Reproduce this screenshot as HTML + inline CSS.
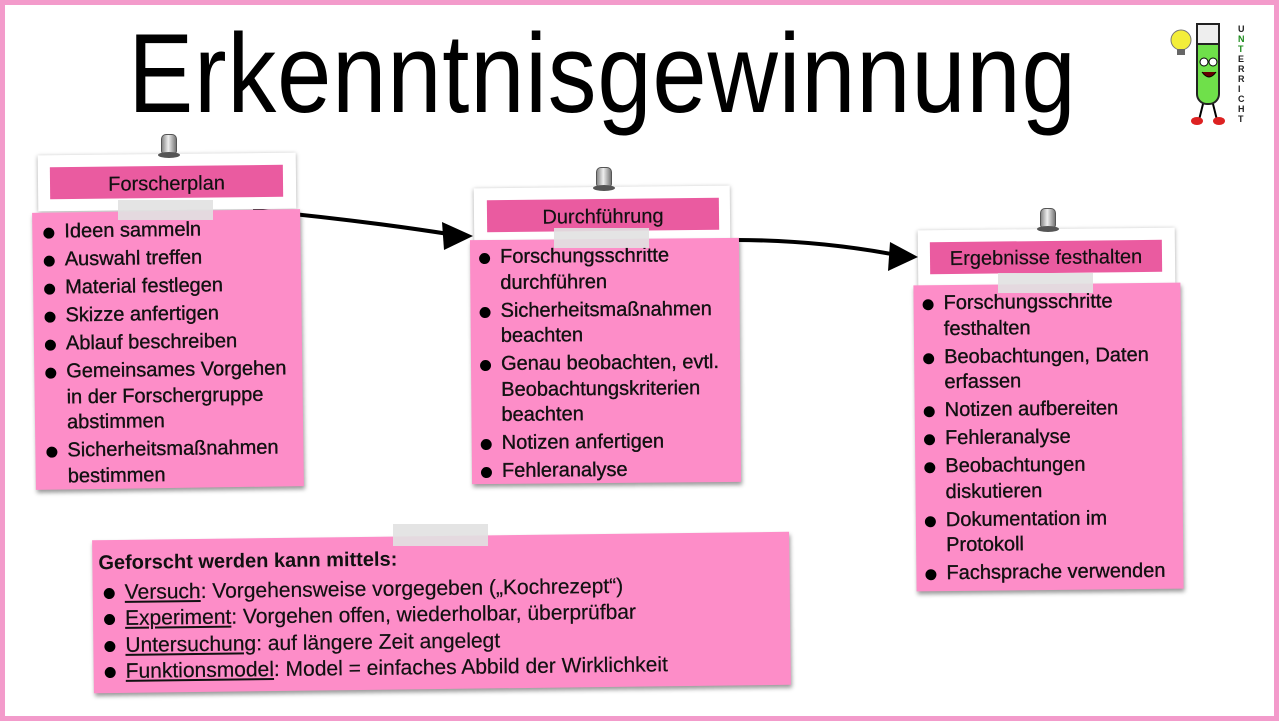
<!DOCTYPE html>
<html><head><meta charset="utf-8"><style>
*{margin:0;padding:0;box-sizing:border-box}
body{width:1279px;height:721px;overflow:hidden;background:#fff;position:relative;font-family:"Liberation Sans",Arial,sans-serif;color:#111}
.frame{position:absolute;left:0;top:0;width:1279px;height:721px;border:5px solid #f39bcb}
.title{position:absolute;left:0;top:18px;width:1205px;text-align:center;font-size:112px;line-height:112px;transform:scaleX(0.87);transform-origin:602px 0;color:#000;letter-spacing:1px}
.hdr{position:absolute;background:#fff;box-shadow:0 1px 4px rgba(0,0,0,.35)}
.bar{position:absolute;background:#ea5ba0;font-size:20px;text-align:center;color:#111;-webkit-text-stroke:.2px #111}
.note{position:absolute;background:#fd8dc8;box-shadow:1px 3px 4px rgba(0,0,0,.4);font-size:20px;line-height:25.5px;-webkit-text-stroke:.35px #111}
.note ul{list-style:none}
.note li{position:relative;padding-left:26px;margin-bottom:2.5px}
.note li:before{content:"";position:absolute;left:5px;top:8px;width:11px;height:11px;border-radius:50%;background:#000}
.tape{position:absolute;background:rgba(225,225,225,.9);width:95px;height:20px}
.pin{position:absolute;width:16px;height:20px;border-radius:5px 5px 3px 3px;background:linear-gradient(90deg,#888,#eee 45%,#777);border:1px solid #555}
.pin:after{content:"";position:absolute;left:-4px;top:17px;width:22px;height:6px;border-radius:50%;background:#555}
u{text-decoration:underline}
</style></head><body>
<div class="frame"></div>
<div class="title">Erkenntnisgewinnung</div>

<svg style="position:absolute;left:1165px;top:20px" width="85" height="110" viewBox="0 0 85 110">
<circle cx="16" cy="20" r="10" fill="#f3ee3a" stroke="#777"/>
<rect x="12" y="29" width="8" height="6" fill="#666"/>
<rect x="32" y="4" width="22" height="80" rx="10" fill="#6fe04a" stroke="#222" stroke-width="2"/>
<rect x="32" y="4" width="22" height="20" fill="#eee" stroke="#222" stroke-width="2"/>
<circle cx="39" cy="42" r="4" fill="#fff" stroke="#000"/><circle cx="48" cy="42" r="4" fill="#fff" stroke="#000"/>
<path d="M37 52 Q44 62 51 52" fill="#600" stroke="#000"/>
<path d="M38 84 L34 100 M48 84 L52 100" stroke="#000" stroke-width="2"/>
<ellipse cx="32" cy="101" rx="6" ry="4" fill="#d22"/><ellipse cx="54" cy="101" rx="6" ry="4" fill="#d22"/>
<text x="76" y="0" font-size="9" font-family="Liberation Sans" font-weight="bold" fill="#222"><tspan x="73" dy="12">U</tspan><tspan x="73" dy="10" fill="#1a8a1a">N</tspan><tspan x="73" dy="10" fill="#1a8a1a">T</tspan><tspan x="73" dy="10">E</tspan><tspan x="73" dy="10">R</tspan><tspan x="73" dy="10">R</tspan><tspan x="73" dy="10">I</tspan><tspan x="73" dy="10">C</tspan><tspan x="73" dy="10">H</tspan><tspan x="73" dy="10">T</tspan></text>
</svg>

<svg style="position:absolute;left:0;top:0" width="1279" height="721">
<path d="M253 210 Q360 220 455 235" stroke="#000" stroke-width="4" fill="none"/>
<path d="M442 222 L473 236 L444 250 Z" fill="#000"/>
<path d="M735 240 Q820 240 902 256" stroke="#000" stroke-width="4" fill="none"/>
<path d="M890 242 L918 257 L888 271 Z" fill="#000"/>
</svg>

<div class="hdr" style="left:38px;top:154px;width:258px;height:56px;transform:rotate(-0.6deg)"></div>
<div class="bar" style="left:50px;top:166px;width:233px;height:32px;line-height:36px;transform:rotate(-0.6deg)">Forscherplan</div>
<div class="pin" style="left:161px;top:134px"></div>
<div class="note" style="left:34px;top:211px;width:268px;height:277px;padding:7px 6px 0 6px;transform:rotate(-0.8deg)">
<ul><li>Ideen sammeln</li><li>Auswahl treffen</li><li>Material festlegen</li><li>Skizze anfertigen</li><li>Ablauf beschreiben</li><li>Gemeinsames Vorgehen in der Forschergruppe abstimmen</li><li>Sicherheitsmaßnahmen bestimmen</li></ul></div>
<div class="tape" style="left:118px;top:200px"></div>

<div class="hdr" style="left:474px;top:187px;width:256px;height:54px;transform:rotate(-0.6deg)"></div>
<div class="bar" style="left:487px;top:199px;width:232px;height:32px;line-height:36px;transform:rotate(-0.6deg)">Durchführung</div>
<div class="pin" style="left:596px;top:167px"></div>
<div class="note" style="left:471px;top:239px;width:269px;height:244px;padding:5px 6px 0 4px;transform:rotate(-0.5deg)">
<ul><li>Forschungsschritte durchführen</li><li>Sicherheitsmaßnahmen beachten</li><li>Genau beobachten, evtl. Beobachtungskriterien beachten</li><li>Notizen anfertigen</li><li>Fehleranalyse</li></ul></div>
<div class="tape" style="left:554px;top:228px"></div>

<div class="hdr" style="left:918px;top:229px;width:257px;height:56px;transform:rotate(-0.6deg)"></div>
<div class="bar" style="left:930px;top:241px;width:232px;height:32px;line-height:34px;transform:rotate(-0.6deg)">Ergebnisse festhalten</div>
<div class="pin" style="left:1040px;top:208px"></div>
<div class="note" style="left:915px;top:284px;width:267px;height:306px;padding:6px 6px 0 4px;transform:rotate(-0.6deg)">
<ul><li>Forschungsschritte festhalten</li><li>Beobachtungen, Daten erfassen</li><li>Notizen aufbereiten</li><li>Fehleranalyse</li><li>Beobachtungen diskutieren</li><li>Dokumentation im Protokoll</li><li>Fachsprache verwenden</li></ul></div>
<div class="tape" style="left:998px;top:273px"></div>

<div class="note" style="left:93px;top:536px;width:697px;height:153px;padding:10px 6px 0 6px;transform:rotate(-0.7deg);-webkit-text-stroke:.2px #111;font-size:21px;line-height:26.5px">
<div style="font-weight:bold;font-size:20px;-webkit-text-stroke:0;margin-bottom:3px">Geforscht werden kann mittels:</div>
<ul><li style="margin:0"><u>Versuch</u>: Vorgehensweise vorgegeben („Kochrezept“)</li><li style="margin:0"><u>Experiment</u>: Vorgehen offen, wiederholbar, überprüfbar</li><li style="margin:0"><u>Untersuchung</u>: auf längere Zeit angelegt</li><li style="margin:0"><u>Funktionsmodel</u>: Model = einfaches Abbild der Wirklichkeit</li></ul></div>
<div class="tape" style="left:393px;top:524px;height:22px"></div>
</body></html>
